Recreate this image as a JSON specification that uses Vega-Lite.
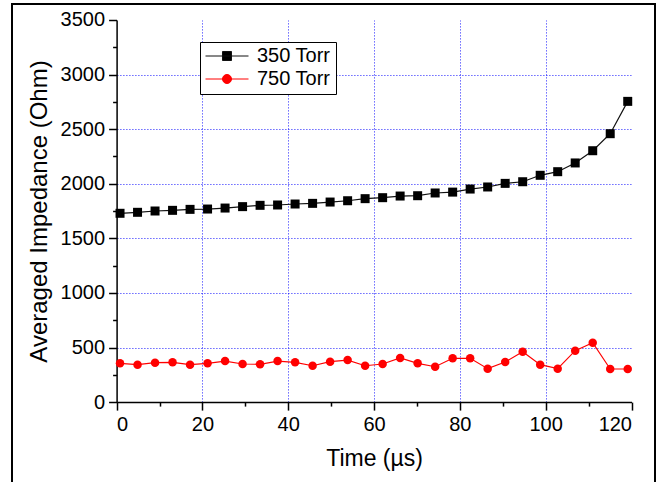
{
  "$schema": "https://vega.github.io/schema/vega-lite/v6.json",
  "width": 643,
  "height": 480,
  "autosize": {"type": "none"},
  "padding": {"left": 12, "top": 4, "right": 8, "bottom": 0},
  "background": "white",
  "config": {
    "view": {"stroke": "black", "strokeWidth": 2},
    "font": "Liberation Sans",
    "axis": {
      "labelFont": "Liberation Sans",
      "titleFont": "Liberation Sans",
      "labelColor": "black",
      "titleColor": "black",
      "titleFontWeight": "normal",
      "domainColor": "black",
      "domainWidth": 1.5,
      "tickColor": "black",
      "tickWidth": 1.5,
      "gridColor": "#0000ff",
      "gridDash": [1.5, 1.5],
      "gridWidth": 1
    }
  },
  "data": {
    "values": [
      {"t": 0.8, "v": 1729, "series": "350 Torr"},
      {"t": 4.88, "v": 1738, "series": "350 Torr"},
      {"t": 8.96, "v": 1750, "series": "350 Torr"},
      {"t": 13.04, "v": 1756, "series": "350 Torr"},
      {"t": 17.12, "v": 1765, "series": "350 Torr"},
      {"t": 21.2, "v": 1768, "series": "350 Torr"},
      {"t": 25.28, "v": 1777, "series": "350 Torr"},
      {"t": 29.36, "v": 1790, "series": "350 Torr"},
      {"t": 33.44, "v": 1802, "series": "350 Torr"},
      {"t": 37.52, "v": 1805, "series": "350 Torr"},
      {"t": 41.6, "v": 1814, "series": "350 Torr"},
      {"t": 45.68, "v": 1820, "series": "350 Torr"},
      {"t": 49.76, "v": 1832, "series": "350 Torr"},
      {"t": 53.84, "v": 1844, "series": "350 Torr"},
      {"t": 57.92, "v": 1863, "series": "350 Torr"},
      {"t": 62.0, "v": 1872, "series": "350 Torr"},
      {"t": 66.08, "v": 1887, "series": "350 Torr"},
      {"t": 70.16, "v": 1890, "series": "350 Torr"},
      {"t": 74.24, "v": 1915, "series": "350 Torr"},
      {"t": 78.32, "v": 1923, "series": "350 Torr"},
      {"t": 82.4, "v": 1951, "series": "350 Torr"},
      {"t": 86.48, "v": 1970, "series": "350 Torr"},
      {"t": 90.56, "v": 2003, "series": "350 Torr"},
      {"t": 94.64, "v": 2018, "series": "350 Torr"},
      {"t": 98.72, "v": 2077, "series": "350 Torr"},
      {"t": 102.8, "v": 2110, "series": "350 Torr"},
      {"t": 106.88, "v": 2190, "series": "350 Torr"},
      {"t": 110.96, "v": 2302, "series": "350 Torr"},
      {"t": 115.04, "v": 2458, "series": "350 Torr"},
      {"t": 119.12, "v": 2754, "series": "350 Torr"},
      {"t": 0.8, "v": 355, "series": "750 Torr"},
      {"t": 4.88, "v": 343, "series": "750 Torr"},
      {"t": 8.96, "v": 361, "series": "750 Torr"},
      {"t": 13.04, "v": 364, "series": "750 Torr"},
      {"t": 17.12, "v": 343, "series": "750 Torr"},
      {"t": 21.2, "v": 355, "series": "750 Torr"},
      {"t": 25.28, "v": 376, "series": "750 Torr"},
      {"t": 29.36, "v": 349, "series": "750 Torr"},
      {"t": 33.44, "v": 346, "series": "750 Torr"},
      {"t": 37.52, "v": 376, "series": "750 Torr"},
      {"t": 41.6, "v": 364, "series": "750 Torr"},
      {"t": 45.68, "v": 333, "series": "750 Torr"},
      {"t": 49.76, "v": 370, "series": "750 Torr"},
      {"t": 53.84, "v": 385, "series": "750 Torr"},
      {"t": 57.92, "v": 333, "series": "750 Torr"},
      {"t": 62.0, "v": 349, "series": "750 Torr"},
      {"t": 66.08, "v": 404, "series": "750 Torr"},
      {"t": 70.16, "v": 355, "series": "750 Torr"},
      {"t": 74.24, "v": 324, "series": "750 Torr"},
      {"t": 78.32, "v": 401, "series": "750 Torr"},
      {"t": 82.4, "v": 401, "series": "750 Torr"},
      {"t": 86.48, "v": 306, "series": "750 Torr"},
      {"t": 90.56, "v": 367, "series": "750 Torr"},
      {"t": 94.64, "v": 462, "series": "750 Torr"},
      {"t": 98.72, "v": 343, "series": "750 Torr"},
      {"t": 102.8, "v": 306, "series": "750 Torr"},
      {"t": 106.88, "v": 471, "series": "750 Torr"},
      {"t": 110.96, "v": 544, "series": "750 Torr"},
      {"t": 115.04, "v": 303, "series": "750 Torr"},
      {"t": 119.12, "v": 303, "series": "750 Torr"}
    ]
  },
  "encoding": {
    "y": {
      "field": "v",
      "type": "quantitative",
      "scale": {"domain": [0, 3500], "range": [398.1, 15.9], "nice": false, "zero": false},
      "axis": {
        "title": "Averaged Impedance (Ohm)",
        "titleFontSize": 24,
        "titlePadding": 9,
        "labelFontSize": 20,
        "labelPadding": 4,
        "offset": -104.6,
        "format": "d",
        "values": [0, 250, 500, 750, 1000, 1250, 1500, 1750, 2000, 2250, 2500, 2750, 3000, 3250, 3500],
        "labelExpr": "datum.value % 500 == 0 ? datum.label : ''",
        "tickSize": {"condition": {"test": "datum.value % 500 != 0", "value": 4}, "value": 8},
        "grid": true,
        "gridOpacity": {"condition": {"test": "datum.value % 500 != 0 || datum.value == 0 || datum.value == 3500", "value": 0}, "value": 0.6}
      }
    }
  },
  "resolve": {"axis": {"x": "independent"}},
  "layer": [
    {
      "mark": {"type": "line", "strokeWidth": 1.2},
      "encoding": {
        "x": {
          "field": "t",
          "type": "quantitative",
          "scale": {"domain": [0, 120], "range": [104.6, 619.5], "nice": false, "zero": false},
          "axis": {
            "orient": "bottom",
            "title": "Time (µs)",
            "titleFontSize": 23,
            "titlePadding": 13,
            "labelFontSize": 20,
            "labelPadding": 4,
            "offset": -81.9,
            "values": [0, 10, 20, 30, 40, 50, 60, 70, 80, 90, 100, 110, 120],
            "labelExpr": "datum.value % 20 == 0 ? datum.label : ''",
            "tickSize": {"condition": {"test": "datum.value % 20 != 0", "value": 4}, "value": 8},
            "grid": false
          }
        },
        "color": {
          "field": "series",
          "type": "nominal",
          "scale": {"domain": ["350 Torr", "750 Torr"], "range": ["#111111", "#ff0000"]},
          "legend": {
            "title": null,
            "orient": "none",
            "legendX": 188,
            "legendY": 38,
            "padding": 5,
            "strokeColor": "black",
            "fillColor": "white",
            "symbolType": "M-1,0H1",
            "symbolSize": 1849,
            "symbolStrokeWidth": 1,
            "clipHeight": 18,
            "rowPadding": 3,
            "labelOffset": 8,
            "labelFontSize": 20,
            "labelFont": "Liberation Sans",
            "labelColor": "black",
            "encode": {
              "symbols": {
                "update": {
                  "shape": {"signal": "datum.value === '350 Torr' ? 'M-1,0H1M-0.21,-0.21H0.21V0.21H-0.21Z' : 'M-1,0H1M0.21,0A0.21,0.21,0,1,1,-0.21,0A0.21,0.21,0,1,1,0.21,0Z'"},
                  "fill": {"signal": "datum.value === '350 Torr' ? '#000000' : '#ff0000'"},
                  "stroke": {"signal": "datum.value === '350 Torr' ? '#000000' : '#ff0000'"},
                  "strokeWidth": {"value": 1},
                  "opacity": {"value": 1}
                }
              }
            }
          }
        }
      }
    },
    {
      "transform": [{"filter": "datum.series === '350 Torr'"}],
      "mark": {"type": "point", "shape": "square", "filled": true, "opacity": 1, "size": 81, "color": "#000000"},
      "encoding": {
        "x": {
          "field": "t",
          "type": "quantitative",
          "axis": {
            "orient": "top",
            "offset": 0,
            "title": null,
            "labels": false,
            "ticks": false,
            "domain": false,
            "values": [20, 40, 60, 80, 100],
            "grid": true,
            "gridOpacity": 0.6
          }
        }
      }
    },
    {
      "transform": [{"filter": "datum.series === '750 Torr'"}],
      "mark": {"type": "point", "shape": "circle", "filled": true, "opacity": 1, "size": 72, "color": "#ff0000"},
      "encoding": {
        "x": {"field": "t", "type": "quantitative", "axis": null}
      }
    }
  ]
}
